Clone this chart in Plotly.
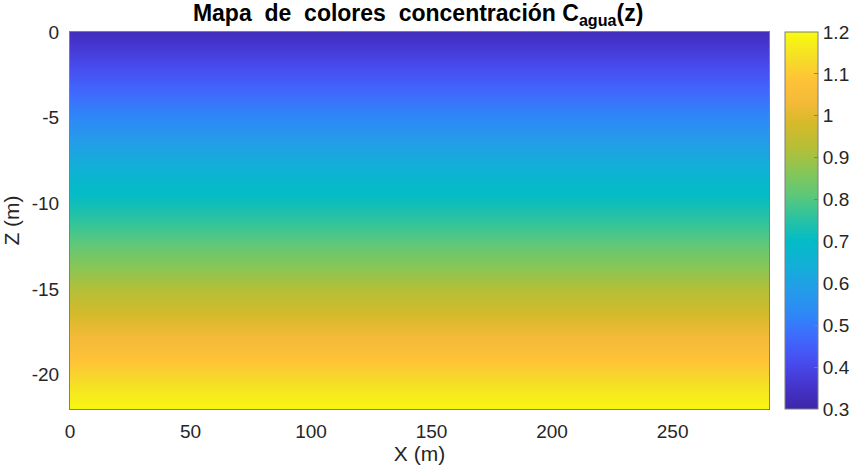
import numpy as np
import plotly.graph_objects as go

# ── Data ──────────────────────────────────────────────────────────────────────
X_GRID = np.arange(0, 291, 10)            # horizontal positions (m)
Z_DEPTH = [0, -1, -2, -3, -4, -5, -6, -7, -8, -9, -10, -11,
           -12, -13, -14, -15, -16, -17, -18, -19, -20, -21, -22]
C_AGUA = [0.33, 0.37, 0.41, 0.45, 0.49, 0.53, 0.57, 0.61, 0.65, 0.69, 0.72, 0.76,
          0.80, 0.84, 0.88, 0.92, 0.96, 1.00, 1.04, 1.08, 1.12, 1.16, 1.19]
X_TICKS = [0, 50, 100, 150, 200, 250]
Y_TICKS = [0, -5, -10, -15, -20]
CBAR_TICKS = [0.3, 0.4, 0.5, 0.6, 0.7, 0.8, 0.9, 1.0, 1.1, 1.2]
CBAR_LABELS = ["0.3", "0.4", "0.5", "0.6", "0.7", "0.8", "0.9", "1", "1.1", "1.2"]

# concentration depends only on depth -> same value along every row
Z_MATRIX = [[c] * len(X_GRID) for c in C_AGUA]

# ── MATLAB parula (approx.) ───────────────────────────────────────────────────
PARULA = [
    [0.000, "rgb(62,38,168)"],
    [0.063, "rgb(70,53,206)"],
    [0.125, "rgb(71,76,238)"],
    [0.188, "rgb(64,104,253)"],
    [0.250, "rgb(46,135,247)"],
    [0.313, "rgb(37,155,234)"],
    [0.380, "rgb(18,175,215)"],
    [0.448, "rgb(4,188,198)"],
    [0.510, "rgb(45,195,158)"],
    [0.570, "rgb(95,200,120)"],
    [0.630, "rgb(135,198,86)"],
    [0.690, "rgb(180,191,56)"],
    [0.755, "rgb(212,186,42)"],
    [0.815, "rgb(245,186,57)"],
    [0.875, "rgb(254,195,55)"],
    [0.938, "rgb(245,225,36)"],
    [1.000, "rgb(249,251,14)"],
]

FONT = "Liberation Sans, Arial, sans-serif"
GREY = "#7f7f7f"
TXT = "#262626"

fig = go.Figure(go.Heatmap(
    x=X_GRID,
    y=Z_DEPTH,
    z=Z_MATRIX,
    colorscale=PARULA,
    zmin=0.3,
    zmax=1.2,
    zsmooth="best",
    hovertemplate="X=%{x} m<br>Z=%{y} m<br>C=%{z:.2f}<extra></extra>",
    colorbar=dict(
        x=1.023, xanchor="left",
        y=0.5, yanchor="middle", len=1.0, lenmode="fraction",
        thickness=33, xpad=0, ypad=0,
        outlinewidth=1, outlinecolor=GREY,
        tickvals=CBAR_TICKS,
        ticktext=CBAR_LABELS,
        ticks="inside", ticklen=4, tickcolor=GREY,
        tickfont=dict(family=FONT, size=19, color=TXT),
    ),
))

fig.update_layout(
    width=855, height=471,
    margin=dict(l=70, r=86, t=32, b=62, autoexpand=False),
    paper_bgcolor="white",
    plot_bgcolor="white",
    font=dict(family=FONT, color=TXT),
    title=dict(
        text="<b>Mapa  de  colores  concentración C<sub>agua</sub>(z)</b>",
        x=0.489, xanchor="center",
        y=0.972, yanchor="middle",
        font=dict(family=FONT, size=23, color="#000000"),
    ),
    xaxis=dict(
        range=[0, 290],
        tickvals=X_TICKS,
        ticktext=[str(v) for v in X_TICKS],
        ticks="", showgrid=False, zeroline=False, automargin=False,
        showline=True, linecolor=GREY, linewidth=1, mirror=True,
        tickfont=dict(family=FONT, size=19, color=TXT),
        ticklabelstandoff=5,
        title=dict(text="X (m)", font=dict(family=FONT, size=21, color=TXT), standoff=4),
    ),
    yaxis=dict(
        range=[-22, 0],
        tickvals=Y_TICKS,
        ticktext=[str(v) for v in Y_TICKS],
        ticks="", showgrid=False, zeroline=False, automargin=False,
        showline=True, linecolor=GREY, linewidth=1, mirror=True,
        tickfont=dict(family=FONT, size=19, color=TXT),
        ticklabelstandoff=6,
        title=dict(text="Z (m)", font=dict(family=FONT, size=21, color=TXT), standoff=6),
    ),
)

# drop the browser's default 8px body margin so the figure fills the window
fig.write_html("out.html", config={"displayModeBar": False},
               post_script="document.body.style.margin='0';")
